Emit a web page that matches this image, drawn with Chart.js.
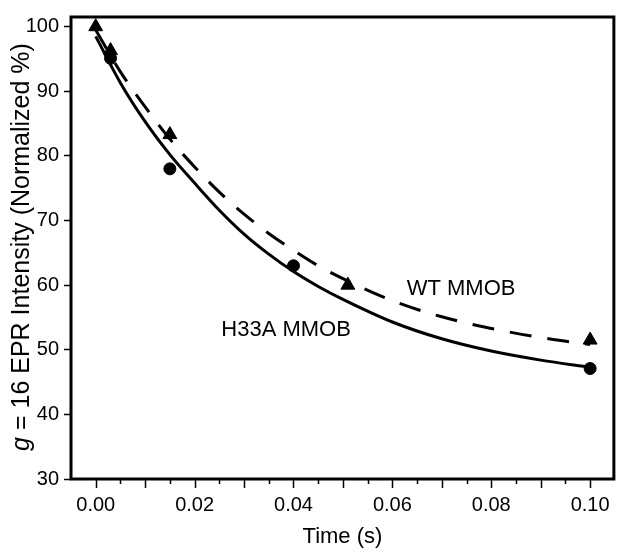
<!DOCTYPE html>
<html>
<head>
<meta charset="utf-8">
<script src="https://cdn.jsdelivr.net/npm/chart.js@4/dist/chart.umd.min.js"></script>
<style>
    html, body { margin: 0; padding: 0; background: #fff; }
    #wrap { width: 624px; height: 559px; }
</style>
</head>
<body>
<div id="wrap"><canvas id="kinetics" width="624" height="559"></canvas></div>
<script>
// ---------- DATA ----------
const wtTime = [0, 0.003, 0.015, 0.051, 0.1];
const wtValue = [100, 96.3, 83.3, 60.0, 51.5];

const h33aTime = [0.003, 0.015, 0.04, 0.1];
const h33aValue = [95.1, 78.0, 63.0, 47.1];

// fitted curves
const fitTime = [0, 0.005, 0.01, 0.015, 0.02, 0.025, 0.03, 0.035, 0.04, 0.045, 0.05, 0.06, 0.07, 0.08, 0.09, 0.1];
const wtFit = [99.5, 93.0, 87.6, 82.6, 78.3, 74.4, 71.0, 68.0, 65.4, 63.0, 61.0, 57.6, 55.1, 53.3, 51.9, 50.8];
const h33aFit = [98.5, 91.3, 85.3, 80.2, 75.8, 71.6, 67.9, 64.8, 62.1, 59.8, 57.8, 54.3, 51.7, 49.8, 48.4, 47.3];

const xTickLabels = [0, 0.02, 0.04, 0.06, 0.08, 0.10];
const xTickMarks = [0, 0.005, 0.01, 0.015, 0.02, 0.025, 0.03, 0.035, 0.04, 0.045, 0.05,
    0.055, 0.06, 0.065, 0.07, 0.075, 0.08, 0.085, 0.09, 0.095, 0.1];
const yTickLabels = [30, 40, 50, 60, 70, 80, 90, 100];

const labels = [
    { text: "WT MMOB", x: 0.0629, y: 59.4 },
    { text: "H33A MMOB", x: 0.0254, y: 53.1 }
];

const FONT = "'Liberation Sans', Arial, sans-serif";

function toPoints(xs, ys) {
    return xs.map((x, i) => ({ x: x, y: ys[i] }));
}

// ---------- EXTRAS: frame, x ticks, y title, labels ----------
const extras = {
    id: "extras",
    afterDraw(chart) {
        const ctx = chart.ctx;
        const area = chart.chartArea;
        const xs = chart.scales.x;
        const ys = chart.scales.y;

        ctx.save();
        ctx.strokeStyle = "#000";
        ctx.lineWidth = 3;
        ctx.strokeRect(area.left, area.top, area.right - area.left, area.bottom - area.top);

        // x tick marks, long every 0.01, short between
        ctx.lineWidth = 1.5;
        xTickMarks.forEach((v, i) => {
            const px = Math.round(xs.getPixelForValue(v)) + 0.5;
            const len = i % 2 === 0 ? 9 : 5;
            ctx.beginPath();
            ctx.moveTo(px, area.bottom);
            ctx.lineTo(px, area.bottom + len);
            ctx.stroke();
        });

        // y title with italic g
        ctx.fillStyle = "#000";
        ctx.textBaseline = "middle";
        const italic = "italic 25px " + FONT;
        const normal = "25px " + FONT;
        const rest = " = 16 EPR Intensity (Normalized %)";
        ctx.font = italic;
        const wg = ctx.measureText("g").width;
        ctx.font = normal;
        const wr = ctx.measureText(rest).width;
        ctx.translate(22, 247);
        ctx.rotate(-Math.PI / 2);
        ctx.textAlign = "left";
        const start = -(wg + wr) / 2;
        ctx.font = italic;
        ctx.fillText("g", start, 0);
        ctx.font = normal;
        ctx.fillText(rest, start + wg, 0);
        ctx.setTransform(1, 0, 0, 1, 0, 0);

        // series labels
        ctx.font = "22px " + FONT;
        ctx.textAlign = "left";
        labels.forEach(l => {
            ctx.fillText(l.text, xs.getPixelForValue(l.x), ys.getPixelForValue(l.y));
        });
        ctx.restore();
    }
};

// ---------- CHART ----------
const ctx = document.getElementById("kinetics").getContext("2d");

new Chart(ctx, {
    type: "scatter",
    data: {
        datasets: [
            {
                label: "WT MMOB data",
                data: toPoints(wtTime, wtValue),
                pointStyle: "triangle",
                pointRadius: 8,
                backgroundColor: "#000",
                borderColor: "#000",
                borderWidth: 1,
                order: 0
            },
            {
                label: "H33A MMOB data",
                data: toPoints(h33aTime, h33aValue),
                pointStyle: "circle",
                pointRadius: 6,
                backgroundColor: "#000",
                borderColor: "#000",
                borderWidth: 1,
                order: 0
            },
            {
                label: "WT MMOB fit",
                data: toPoints(fitTime, wtFit),
                showLine: true,
                pointRadius: 0,
                borderColor: "#000",
                borderWidth: 3,
                borderDash: [22, 16],
                cubicInterpolationMode: "monotone",
                order: 1
            },
            {
                label: "H33A MMOB fit",
                data: toPoints(fitTime, h33aFit),
                showLine: true,
                pointRadius: 0,
                borderColor: "#000",
                borderWidth: 3,
                cubicInterpolationMode: "monotone",
                order: 1
            }
        ]
    },
    options: {
        responsive: false,
        animation: false,
        events: [],
        layout: {
            padding: { top: 10, right: 8, bottom: 0, left: 0 }
        },
        plugins: {
            legend: { display: false },
            tooltip: { enabled: false }
        },
        scales: {
            x: {
                type: "linear",
                min: -0.005,
                max: 0.1048,
                afterBuildTicks: s => { s.ticks = xTickLabels.map(v => ({ value: v })); },
                afterFit: s => { s.height = 80; },
                border: { display: false },
                grid: { drawOnChartArea: false, drawTicks: false, color: "rgba(0,0,0,0)" },
                ticks: {
                    color: "#000",
                    padding: 14,
                    maxRotation: 0,
                    font: { family: FONT, size: 20 },
                    callback: v => v.toFixed(2)
                },
                title: {
                    display: true,
                    text: "Time (s)",
                    color: "#000",
                    font: { family: FONT, size: 22 },
                    padding: { top: 0, bottom: 9 }
                }
            },
            y: {
                min: 30,
                max: 101.5,
                afterBuildTicks: s => { s.ticks = yTickLabels.map(v => ({ value: v })); },
                afterFit: s => { s.width = 71; },
                border: { display: false },
                grid: {
                    drawOnChartArea: false,
                    drawTicks: true,
                    tickLength: 7,
                    tickWidth: 1.5,
                    tickColor: "#000"
                },
                ticks: {
                    color: "#000",
                    padding: 5,
                    font: { family: FONT, size: 20 },
                    callback: v => String(v)
                }
            }
        }
    },
    plugins: [extras]
});
</script>
</body>
</html>
